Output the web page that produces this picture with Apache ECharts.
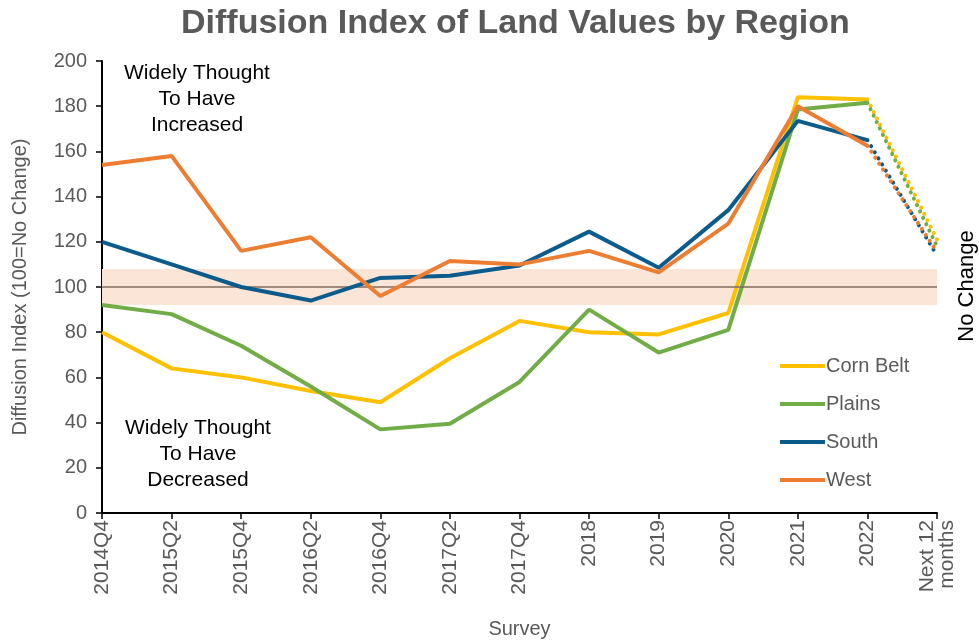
<!DOCTYPE html>
<html>
<head>
<meta charset="utf-8">
<script src="https://cdn.jsdelivr.net/npm/echarts@6/dist/echarts.min.js"></script>
<style>
  html, body { margin: 0; padding: 0; background: #fff; }
  #main { width: 979px; height: 640px; }
</style>
</head>
<body>
<div id="main"></div>
<script>
// survey periods on the x axis
var surveys = ['2014Q4', '2015Q2', '2015Q4', '2016Q2', '2016Q4', '2017Q2', '2017Q4',
               '2018', '2019', '2020', '2021', '2022', 'Next 12\nmonths'];

// index values by region (last value = expectation for next 12 months)
var cornBelt = [80, 64, 60, 54, 49, 68.5, 85, 80, 79, 88.5, 184, 183, 121];
var plains   = [92, 88, 74, 56, 37, 39.5, 58, 90, 71, 81, 178.5, 181.5, 118];
var south    = [120, 110, 100, 94, 104, 105, 109.5, 124.5, 108.5, 134, 173.5, 165, 114];
var west     = [154, 158, 116, 122, 96, 111.5, 110, 116, 106.5, 128, 180, 162.5, 115.5];

// "no change" band
var bandLow = 92;
var bandHigh = 108;
var noChange = 100;

var regions = ['Corn Belt', 'Plains', 'South', 'West'];
var colors = ['#FFC000', '#70AD47', '#0B5C8C', '#ED7D31'];
var values = [cornBelt, plains, south, west];

var grey = '#595959';
var font = 'Liberation Sans';

var series = [];

// background band and 100 line
series.push({
  name: 'band',
  type: 'line',
  data: [],
  z: 1,
  markArea: {
    silent: true,
    itemStyle: { color: '#FBE5D6' },
    data: [[{ yAxis: bandLow }, { yAxis: bandHigh }]]
  },
  markLine: {
    silent: true,
    symbol: 'none',
    label: { show: false },
    lineStyle: { color: '#7F6A5C', width: 1.5, type: 'solid' },
    data: [{ yAxis: noChange }]
  }
});

values.forEach(function (v, i) {
  // solid part: actual survey results
  var solid = v.map(function (d, j) { return j < v.length - 1 ? d : '-'; });
  // dotted part: 2022 -> next 12 months
  var dotted = v.map(function (d, j) { return j >= v.length - 2 ? d : '-'; });
  series.push({
    name: regions[i],
    type: 'line',
    data: solid,
    symbol: 'none',
    color: colors[i],
    lineStyle: { width: 4, color: colors[i] },
    z: 3 + i
  });
  series.push({
    name: regions[i] + ' outlook',
    type: 'line',
    data: dotted,
    symbol: 'none',
    color: colors[i],
    lineStyle: { width: 4, color: colors[i], type: [0.1, 7], cap: 'round' },
    z: 3 + i
  });
});

function note(x, y, text) {
  return {
    type: 'text', x: x, y: y,
    style: {
      text: text, fontSize: 21, fill: '#000', fontFamily: font,
      align: 'center', lineHeight: 26
    }
  };
}

var option = {
  animation: false,
  backgroundColor: '#fff',
  textStyle: { fontFamily: font },
  title: {
    text: 'Diffusion Index of Land Values by Region',
    left: 176,
    top: 2,
    textStyle: { fontSize: 34, fontWeight: 'bold', color: grey, fontFamily: font }
  },
  legend: {
    data: regions,
    orient: 'vertical',
    left: 775,
    top: 351,
    itemWidth: 45,
    itemHeight: 4,
    itemGap: 18,
    icon: 'rect',
    textStyle: { fontSize: 20, lineHeight: 20, color: grey, fontFamily: font, padding: [0, 0, 0, -4] }
  },
  grid: { left: 102, right: 42, top: 61, bottom: 127, outerBoundsMode: 'none' },
  xAxis: {
    type: 'category',
    data: surveys,
    boundaryGap: false,
    name: 'Survey',
    nameLocation: 'middle',
    nameGap: 106,
    nameTextStyle: { fontSize: 20, color: grey },
    axisLine: { lineStyle: { color: '#000', width: 2 } },
    axisTick: { show: true, length: 6, lineStyle: { color: '#000', width: 1.5 } },
    axisLabel: { rotate: 90, fontSize: 21, color: grey, margin: 7, lineHeight: 20 }
  },
  yAxis: {
    type: 'value',
    min: 0,
    max: 200,
    interval: 20,
    name: 'Diffusion Index (100=No Change)',
    nameLocation: 'middle',
    nameGap: 72,
    nameRotate: 90,
    nameTextStyle: { fontSize: 20, color: grey },
    axisLine: { show: true, lineStyle: { color: '#000', width: 2 } },
    axisTick: { show: true, length: 6, lineStyle: { color: '#000', width: 1.5 } },
    splitLine: { show: false },
    axisLabel: { fontSize: 20, color: grey, margin: 15 }
  },
  graphic: [
    note(197, 60, 'Widely Thought\nTo Have\nIncreased'),
    note(198, 415, 'Widely Thought\nTo Have\nDecreased'),
    {
      type: 'text',
      x: 967, y: 286,
      rotation: Math.PI / 2,
      style: {
        text: 'No Change',
        fontSize: 22, fill: '#000', fontFamily: font,
        align: 'center', verticalAlign: 'middle'
      }
    }
  ],
  series: series
};

var chart = echarts.init(document.getElementById('main'));
chart.setOption(option);
</script>
</body>
</html>
